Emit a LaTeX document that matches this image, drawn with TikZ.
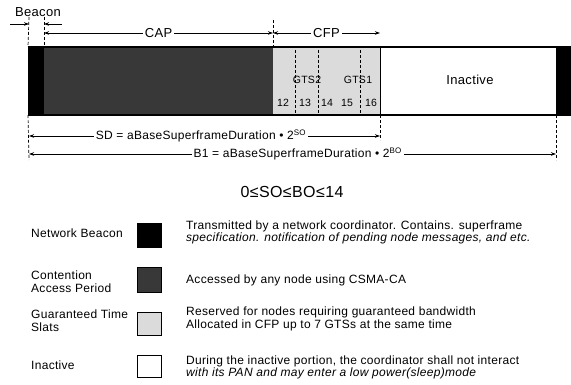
\documentclass[tikz,border=0pt]{standalone}
\usepackage{fontspec}
\setmainfont{Liberation Sans}[LetterSpace=2.5]
\usetikzlibrary{arrows.meta}
\begin{document}
\begin{tikzpicture}[x=1pt,y=-1pt,
  block/.style={inner sep=0pt, outer sep=0pt, anchor=north west, minimum height=68pt},
  dim/.style={{Stealth[length=5pt,width=3.5pt]}-{Stealth[length=5pt,width=3.5pt]}, line width=0.7pt},
  sarrow/.style={-{Stealth[length=5pt,width=3.5pt]}, line width=0.7pt},
  guide/.style={densely dashed, line width=0.7pt},
  lbl/.style={font=\fontsize{13}{15}\selectfont, inner sep=2pt, fill=white},
  eqlbl/.style={font=\fontsize{12}{14}\selectfont, inner sep=2pt, fill=white},
  slot/.style={font=\fontsize{10.5}{12}\selectfont, inner sep=1pt},
  key/.style={draw, line width=0.9pt, inner sep=0pt, minimum width=24pt},
  keytxt/.style={font=\fontsize{12}{13}\selectfont, anchor=west, align=left, inner sep=0pt},
  desc/.style={font=\fontsize{12}{12.5}\selectfont, anchor=west, align=left, inner sep=0pt}]
\useasboundingbox (0,0) rectangle (571,385);

% superframe bar
\node[block, fill=black, minimum width=16pt] (bcn) at (28,47) {};
\node[block, fill=black!78, minimum width=229pt] (cap) at (44,47) {};
\node[block, fill=black!14, minimum width=107pt] (cfp) at (273,47) {};
\node[block, fill=white, minimum width=176pt] (ina) at (380,47) {};
\node[block, fill=black, minimum width=15pt] (bcn2) at (556,47) {};
\draw[line width=1.4pt] (bcn.north west) -- (bcn2.north east);
\draw[line width=1.4pt] (bcn.south west) -- (bcn2.south east);
\draw[line width=0.8pt] (cfp.north east) -- (cfp.south east);

% slot separators in CFP
\coordinate (s1t) at (295,50); \coordinate (s1b) at (295,113);
\coordinate (s2t) at (318,50); \coordinate (s2b) at (318,113);
\coordinate (s3t) at (360,50); \coordinate (s3b) at (360,113);
\draw[guide] (s1t) -- (s1b);
\draw[guide] (s2t) -- (s2b);
\draw[guide] (s3t) -- (s3b);
\node[slot] (gts2) at (307,80) {GTS2};
\node[slot] (gts1) at (358,80) {GTS1};
\node[slot] (n12) at (283,103) {12};
\node[slot] (n13) at (305,103) {13};
\node[slot] (n14) at (327,103) {14};
\node[slot] (n15) at (347,103) {15};
\node[slot] (n16) at (371,103) {16};
\node[font=\fontsize{13}{15}\selectfont] (inat) at (470,80) {Inactive};

% top guides and arrows
\node[font=\fontsize{13}{15}\selectfont, inner sep=0pt] (beacon) at (38,12) {Beacon};
\coordinate (g1t) at (29,17);
\coordinate (g2t) at (44,17);
\coordinate (g3t) at (273,20);
\draw[guide] (g1t) -- (bcn.north west);
\draw[guide] (g2t) -- (cap.north west);
\draw[guide] (g3t) -- (cap.north east);
\coordinate (ba1) at (10,24); \coordinate (ba2) at (29,24);
\coordinate (bb1) at (62,24); \coordinate (bb2) at (44,24);
\draw[sarrow] (ba1) -- (ba2);
\draw[sarrow] (bb1) -- (bb2);
\coordinate (capl) at (44,33); \coordinate (capr) at (273,33); \coordinate (cfpr) at (380,33);
\draw[dim] (capl) -- node[lbl] (capt) {CAP} (capr);
\draw[dim] (capr) -- node[lbl] (cfpt) {CFP} (cfpr);

% bottom guides and arrows
\coordinate (d1b) at (29,160);
\coordinate (d2b) at (380,140);
\coordinate (d3b) at (556,160);
\draw[guide] (bcn.south west) -- (d1b);
\draw[guide] (cfp.south east) -- (d2b);
\draw[guide] (bcn2.south west) -- (d3b);
\coordinate (sdl) at (29,136); \coordinate (sdr) at (380,136);
\coordinate (bil) at (29,154); \coordinate (bir) at (556,154);
\draw[dim] (sdl) -- node[eqlbl, pos=0.49] (sdt) {SD = aBaseSuperframeDuration \textbullet\ 2\textsuperscript{SO}} (sdr);
\draw[dim] (bil) -- node[eqlbl, pos=0.51] (bit) {B1 = aBaseSuperframeDuration \textbullet\ 2\textsuperscript{BO}} (bir);
\node[font=\fontsize{16}{18}\selectfont] (ineq) at (292,192) {0≤SO≤BO≤14};

% legend
\node[keytxt] (k1) at (31,233) {Network Beacon};
\node[key, fill=black, minimum height=24pt] (q1) at (149,235) {};
\node[desc, font=\fontsize{12}{11.5}\selectfont] (t1) at (186,232.5) {Transmitted by a network coordinator. Contains. superframe\\\textit{specification. notification of pending node messages, and etc.}};

\node[keytxt] (k2) at (31,281.5) {Contention\\Access Period};
\node[key, fill=black!78, minimum height=25pt] (q2) at (149,279.5) {};
\node[desc] (t2) at (186,280) {Accessed by any node using CSMA-CA};

\node[keytxt] (k3) at (31,320.5) {Guaranteed Time\\Slats};
\node[key, fill=black!14, minimum height=23pt] (q3) at (149,323.5) {};
\node[desc] (t3) at (186,319) {Reserved for nodes requiring guaranteed bandwidth\\Allocated in CFP up to 7 GTSs at the same time};

\node[keytxt] (k4) at (31,365) {Inactive};
\node[key, fill=white, minimum height=22pt] (q4) at (149,366) {};
\node[desc] (t4) at (186,367.5) {During the inactive portion, the coordinator shall not interact\\\textit{with its PAN and may enter a low power(sleep)mode}};
\end{tikzpicture}
\end{document}
